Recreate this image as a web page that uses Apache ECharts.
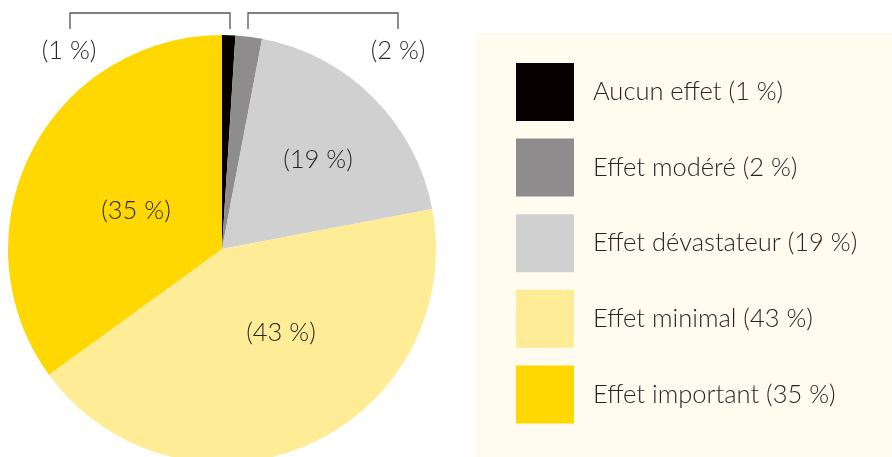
<!DOCTYPE html>
<html>
<head>
<meta charset="utf-8">
<script src="https://cdn.jsdelivr.net/npm/echarts@6/dist/echarts.min.js"></script>
<style>
  html, body { margin: 0; padding: 0; background: #fff; }
  #chart { width: 892px; height: 457px; }
</style>
</head>
<body>
<div id="chart"></div>
<script>
// données
const categories = ['Aucun effet', 'Effet modéré', 'Effet dévastateur', 'Effet minimal', 'Effet important'];
const values = [1, 2, 19, 43, 35];
const colors = ['#060000', '#8e8c8c', '#d1d0d0', '#feed96', '#fed800'];

// position des étiquettes (px) et crochets des petites parts
const labelPos = [[69, 51], [398, 51], [318, 160], [281, 333], [136, 211]];
const brackets = {
  0: [[230, 29], [230, 13], [70, 13], [70, 29]],
  1: [[248, 29], [248, 13], [398, 13], [398, 29]]
};

const FONT = 'Lato';
const TXT = '#262626';
const chart = echarts.init(document.getElementById('chart'));

chart.setOption({
  animation: false,
  textStyle: { fontFamily: FONT },
  graphic: [{
    type: 'rect',
    left: 475, top: 33, z: -10,
    shape: { width: 417, height: 424 },
    style: { fill: '#fffcef' }
  }],
  legend: {
    orient: 'vertical',
    left: 511, top: 58,
    itemWidth: 58, itemHeight: 58, itemGap: 17.6,
    icon: 'rect',
    data: categories,
    formatter: name => name + ' (' + values[categories.indexOf(name)] + ' %)',
    textStyle: { fontFamily: FONT, fontSize: 25.5, fontWeight: 300, color: TXT, padding: [2, 0, 0, 14] }
  },
  series: [{
    type: 'pie',
    center: [222, 249],
    radius: 214,
    startAngle: 90,
    clockwise: true,
    silent: true,
    avoidLabelOverlap: false,
    label: {
      show: true,
      position: 'outside',
      formatter: p => '(' + p.value + ' %)',
      fontFamily: FONT, fontSize: 25.5, fontWeight: 300, color: TXT
    },
    labelLine: { show: true, lineStyle: { color: '#555', width: 1.3 } },
    labelLayout: p => {
      const pos = labelPos[p.dataIndex];
      const out = { x: pos[0], y: pos[1], align: 'center', verticalAlign: 'middle', hideOverlap: false, moveOverlap: null };
      if (brackets[p.dataIndex]) out.labelLinePoints = brackets[p.dataIndex];
      return out;
    },
    data: categories.map((c, i) => ({
      name: c,
      value: values[i],
      itemStyle: { color: colors[i] },
      labelLine: { show: i < 2 }
    }))
  }]
});
</script>
</body>
</html>
